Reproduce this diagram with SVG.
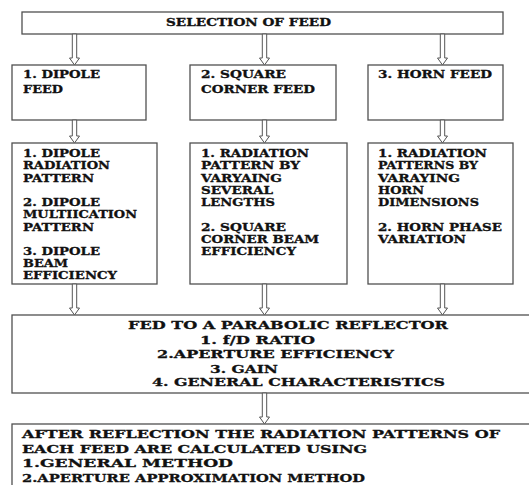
<svg xmlns="http://www.w3.org/2000/svg" width="529" height="485" viewBox="0 0 529 485">
<style>
.box{fill:#fff;stroke:#505050;stroke-width:1.3}
.arr{fill:#fff;stroke:#555;stroke-width:1}
text{font-family:"DejaVu Serif","Liberation Serif",serif;font-weight:bold;font-size:10.5px;fill:#111;stroke:#111;stroke-width:0.3}
.lg{font-size:11.5px}
</style>
<rect width="529" height="485" fill="#fff"/>
<g id="n-selection">
<rect class="box" x="22" y="12" width="481" height="22"/>
<text x="166" y="26" textLength="165" lengthAdjust="spacingAndGlyphs">SELECTION OF FEED</text>
</g>
<g id="n-dipole-feed">
<rect class="box" x="12" y="65" width="134" height="55"/>
<text x="23" y="78" textLength="77" lengthAdjust="spacingAndGlyphs">1. DIPOLE</text>
<text x="23" y="93" textLength="40" lengthAdjust="spacingAndGlyphs">FEED</text>
</g>
<g id="n-square-feed">
<rect class="box" x="190" y="65" width="146" height="55"/>
<text x="201" y="78" textLength="85" lengthAdjust="spacingAndGlyphs">2. SQUARE</text>
<text x="201" y="93" textLength="114" lengthAdjust="spacingAndGlyphs">CORNER FEED</text>
</g>
<g id="n-horn-feed">
<rect class="box" x="368" y="65" width="135" height="55"/>
<text x="378" y="78" textLength="114" lengthAdjust="spacingAndGlyphs">3. HORN FEED</text>
</g>
<g id="n-dipole-detail">
<rect class="box" x="12" y="143" width="145" height="141"/>
<text x="23" y="157" textLength="77" lengthAdjust="spacingAndGlyphs">1. DIPOLE</text>
<text x="23" y="169" textLength="87" lengthAdjust="spacingAndGlyphs">RADIATION</text>
<text x="23" y="181.5" textLength="71" lengthAdjust="spacingAndGlyphs">PATTERN</text>
<text x="23" y="206" textLength="77" lengthAdjust="spacingAndGlyphs">2. DIPOLE</text>
<text x="23" y="218" textLength="114" lengthAdjust="spacingAndGlyphs">MULTIICATION</text>
<text x="23" y="230.5" textLength="71" lengthAdjust="spacingAndGlyphs">PATTERN</text>
<text x="23" y="254.5" textLength="77" lengthAdjust="spacingAndGlyphs">3. DIPOLE</text>
<text x="23" y="267" textLength="45" lengthAdjust="spacingAndGlyphs">BEAM</text>
<text x="23" y="279" textLength="94" lengthAdjust="spacingAndGlyphs">EFFICIENCY</text>
</g>
<g id="n-square-detail">
<rect class="box" x="190" y="143" width="157" height="141"/>
<text x="201" y="157" textLength="108" lengthAdjust="spacingAndGlyphs">1. RADIATION</text>
<text x="201" y="169" textLength="99" lengthAdjust="spacingAndGlyphs">PATTERN BY</text>
<text x="201" y="181.5" textLength="81" lengthAdjust="spacingAndGlyphs">VARYAING</text>
<text x="201" y="194" textLength="72" lengthAdjust="spacingAndGlyphs">SEVERAL</text>
<text x="201" y="206" textLength="74" lengthAdjust="spacingAndGlyphs">LENGTHS</text>
<text x="201" y="230.5" textLength="85" lengthAdjust="spacingAndGlyphs">2. SQUARE</text>
<text x="201" y="242.5" textLength="118" lengthAdjust="spacingAndGlyphs">CORNER BEAM</text>
<text x="201" y="254.5" textLength="95" lengthAdjust="spacingAndGlyphs">EFFICIENCY</text>
</g>
<g id="n-horn-detail">
<rect class="box" x="368" y="143" width="145" height="141"/>
<text x="378" y="157" textLength="109" lengthAdjust="spacingAndGlyphs">1. RADIATION</text>
<text x="378" y="169" textLength="100" lengthAdjust="spacingAndGlyphs">PATTERNS BY</text>
<text x="378" y="181.5" textLength="82" lengthAdjust="spacingAndGlyphs">VARAYING</text>
<text x="378" y="194" textLength="46" lengthAdjust="spacingAndGlyphs">HORN</text>
<text x="378" y="206" textLength="101" lengthAdjust="spacingAndGlyphs">DIMENSIONS</text>
<text x="378" y="230.5" textLength="124" lengthAdjust="spacingAndGlyphs">2. HORN PHASE</text>
<text x="378" y="242.5" textLength="88" lengthAdjust="spacingAndGlyphs">VARIATION</text>
</g>
<g id="n-parabolic">
<rect class="box" x="12" y="315" width="530" height="78"/>
<text class="lg" x="128" y="329" textLength="320" lengthAdjust="spacingAndGlyphs">FED TO A PARABOLIC REFLECTOR</text>
<text class="lg" x="200" y="344" textLength="115" lengthAdjust="spacingAndGlyphs">1. f/D RATIO</text>
<text class="lg" x="157" y="358" textLength="237" lengthAdjust="spacingAndGlyphs">2.APERTURE EFFICIENCY</text>
<text class="lg" x="210" y="372.5" textLength="68" lengthAdjust="spacingAndGlyphs">3. GAIN</text>
<text class="lg" x="152" y="386" textLength="293" lengthAdjust="spacingAndGlyphs">4. GENERAL CHARACTERISTICS</text>
</g>
<g id="n-after-reflection">
<rect class="box" x="12" y="424" width="530" height="80"/>
<text class="lg" x="22" y="438" textLength="478" lengthAdjust="spacingAndGlyphs">AFTER REFLECTION THE RADIATION PATTERNS OF</text>
<text class="lg" x="22" y="453" textLength="345" lengthAdjust="spacingAndGlyphs">EACH FEED ARE CALCULATED USING</text>
<text class="lg" x="22" y="467" textLength="211" lengthAdjust="spacingAndGlyphs">1.GENERAL METHOD</text>
<text class="lg" x="22" y="482" textLength="343" lengthAdjust="spacingAndGlyphs">2.APERTURE APPROXIMATION METHOD</text>
</g>
<g id="connectors">
<path class="arr" d="M72.3 34 V58 H69.5 L74.5 65 L79.5 58 H76.7 V34 Z"/>
<path class="arr" d="M262.3 34 V58 H259.5 L264.5 65 L269.5 58 H266.7 V34 Z"/>
<path class="arr" d="M440.3 34 V58 H437.5 L442.5 65 L447.5 58 H444.7 V34 Z"/>
<path class="arr" d="M72.3 120 V136 H69.5 L74.5 143 L79.5 136 H76.7 V120 Z"/>
<path class="arr" d="M262.3 120 V136 H259.5 L264.5 143 L269.5 136 H266.7 V120 Z"/>
<path class="arr" d="M440.3 120 V136 H437.5 L442.5 143 L447.5 136 H444.7 V120 Z"/>
<path class="arr" d="M72.3 284 V308 H69.5 L74.5 315 L79.5 308 H76.7 V284 Z"/>
<path class="arr" d="M262.3 284 V308 H259.5 L264.5 315 L269.5 308 H266.7 V284 Z"/>
<path class="arr" d="M440.3 284 V308 H437.5 L442.5 315 L447.5 308 H444.7 V284 Z"/>
<path class="arr" d="M262.3 393 V417 H259.5 L264.5 424 L269.5 417 H266.7 V393 Z"/>
</g>
</svg>
